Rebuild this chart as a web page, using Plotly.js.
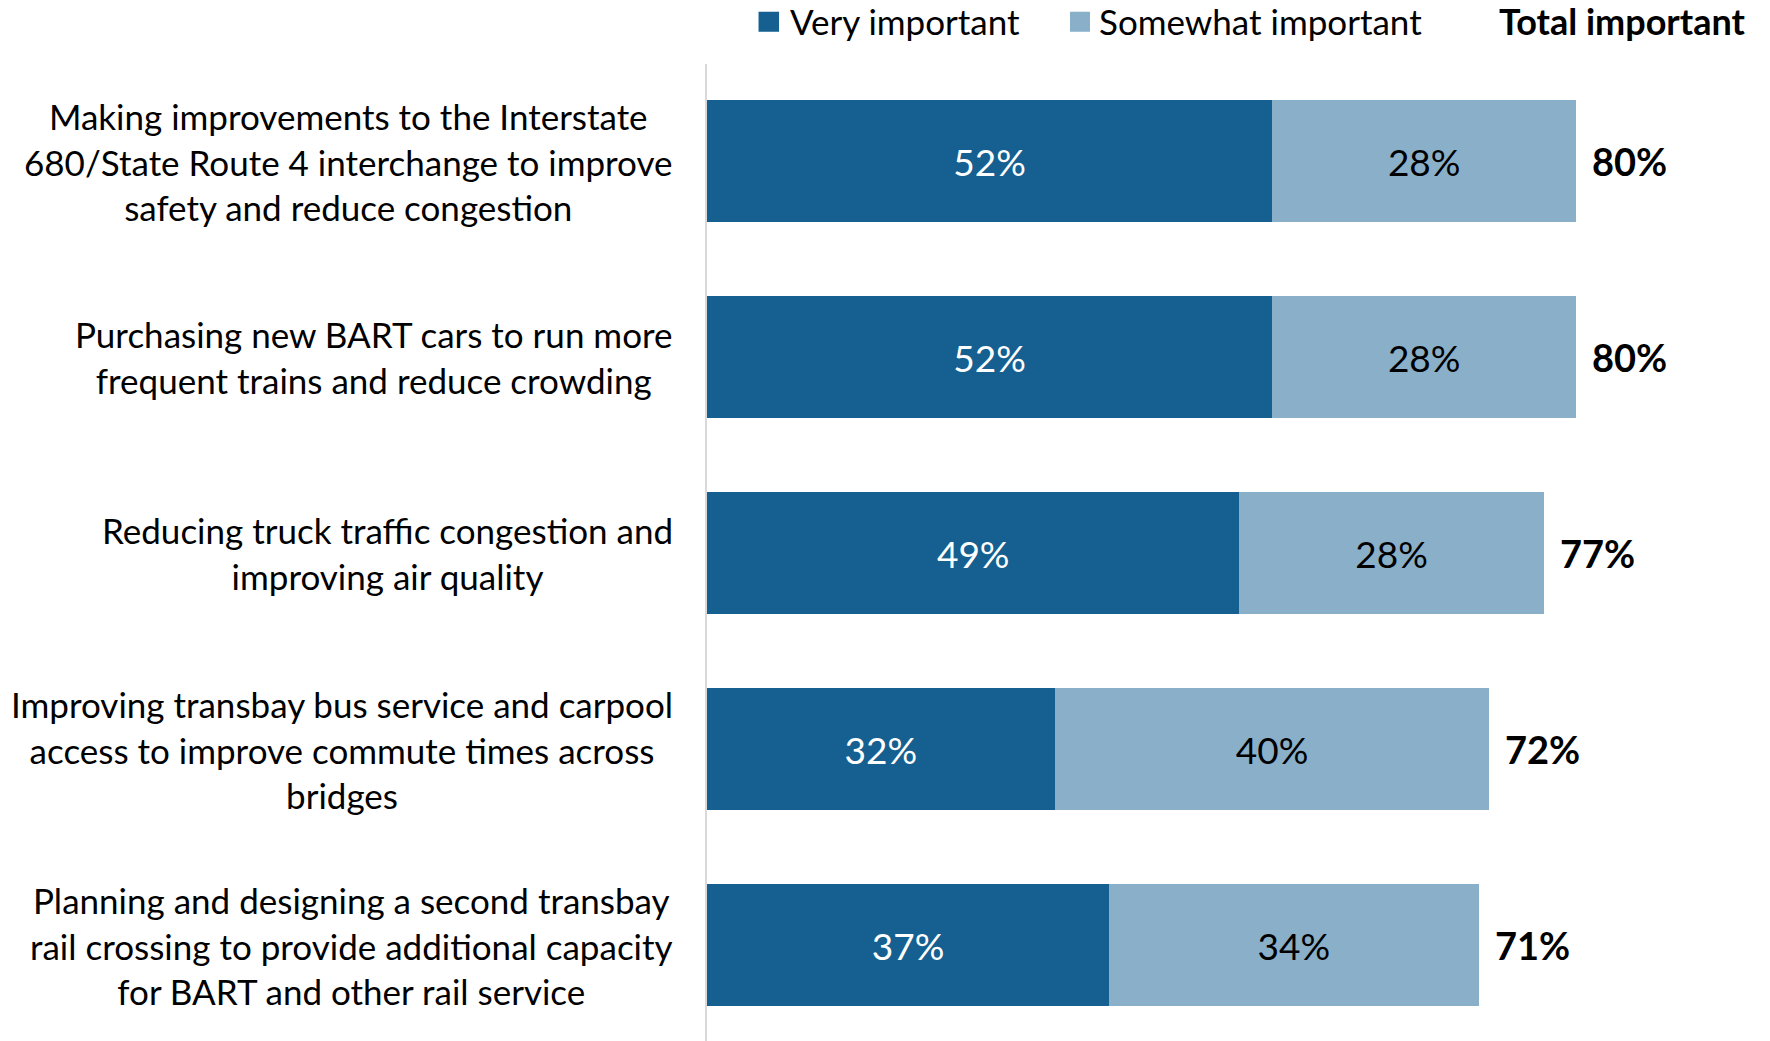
<!DOCTYPE html>
<html>
<head>
<meta charset="utf-8">
<script src="https://cdn.plot.ly/plotly-3.0.1.min.js"></script>
<style>html,body{margin:0;padding:0;background:#fff;}#chart{width:1770px;height:1041px;}</style>
</head>
<body>
<div id="chart"></div>
<script>
const categories = [
  "Making improvements to the Interstate<br>680/State Route 4 interchange to improve<br>safety and reduce congestion",
  "Purchasing new BART cars to run more<br>frequent trains and reduce crowding",
  "Reducing truck traffic congestion and<br>improving air quality",
  "Improving transbay bus service and carpool<br>access to improve commute times across<br>bridges",
  "Planning and designing a second transbay<br>rail crossing to provide additional capacity<br>for BART and other rail service"
];
const veryImportant = [52, 52, 49, 32, 37];
const somewhatImportant = [28, 28, 28, 40, 34];
const totalImportant = [80, 80, 77, 72, 71];
const seriesNames = ["Very important", "Somewhat important"];
const seriesColors = ["#156090", "#89AFC9"];
const totalTitle = "Total important";

const FONT = "Lato, 'Open Sans', sans-serif";
const yIdx = categories.map((c, i) => i);

const traces = [
  {
    type: "bar", orientation: "h", name: seriesNames[0],
    y: yIdx, x: veryImportant,
    marker: {color: seriesColors[0]},
    text: veryImportant.map(v => v + "%"),
    textposition: "inside", insidetextanchor: "middle",
    textfont: {color: "#ffffff", size: 37, family: FONT},
    hoverinfo: "skip"
  },
  {
    type: "bar", orientation: "h", name: seriesNames[1],
    y: yIdx, x: somewhatImportant,
    marker: {color: seriesColors[1]},
    text: somewhatImportant.map(v => v + "%"),
    textposition: "inside", insidetextanchor: "middle",
    textfont: {color: "#000000", size: 37, family: FONT},
    hoverinfo: "skip"
  }
];

const annotations = [];
categories.forEach((c, i) => {
  annotations.push({
    xref: "x", yref: "y", x: 0, y: i, text: c,
    xanchor: "right", yanchor: "middle", align: "center",
    xshift: -32, showarrow: false,
    font: {family: FONT, size: 35, color: "#000"}
  });
  annotations.push({
    xref: "x", yref: "y", x: totalImportant[i], y: i,
    text: "<b>" + totalImportant[i] + "%</b>",
    xanchor: "left", yanchor: "middle", xshift: 14, showarrow: false,
    font: {family: FONT, size: 38, color: "#000"}
  });
});
// Legend (manual, to match square size)
const legendSquares = [[0.0495, 0.0692], [0.3487, 0.3679]];
const legendTextX = [0.0778, 0.3748];
const shapes = [];
seriesNames.forEach((n, k) => {
  shapes.push({
    type: "rect", xref: "paper", yref: "paper",
    x0: legendSquares[k][0], x1: legendSquares[k][1], y0: 1.0330, y1: 1.0535,
    fillcolor: seriesColors[k], line: {width: 0}
  });
  annotations.push({
    xref: "paper", yref: "paper", x: legendTextX[k], y: 1.0437,
    xanchor: "left", yanchor: "middle", text: n, showarrow: false,
    font: {family: FONT, size: 35, color: "#000"}
  });
});
annotations.push({
  xref: "paper", yref: "paper", x: 1, y: 1.0437, xshift: 0,
  xanchor: "right", yanchor: "middle",
  text: "<b>" + totalTitle + "</b>", showarrow: false,
  font: {family: FONT, size: 36, color: "#000"}
});

const layout = {
  width: 1770, height: 1041,
  margin: {l: 707, r: 22, t: 64, b: 0},
  paper_bgcolor: "#fff", plot_bgcolor: "#fff",
  barmode: "stack", bargap: 0.377,
  showlegend: false,
  xaxis: {range: [0, 95.8], showgrid: false, zeroline: false, showticklabels: false, showline: false, fixedrange: true},
  yaxis: {
    range: [4.4895, -0.4975], showgrid: false, zeroline: false, showticklabels: false,
    showline: true, linecolor: "#d9d9d9", linewidth: 2, ticks: "", fixedrange: true
  },
  shapes: shapes,
  annotations: annotations,
  font: {family: FONT}
};

Plotly.newPlot("chart", traces, layout, {displayModeBar: false, staticPlot: true});
</script>
</body>
</html>
